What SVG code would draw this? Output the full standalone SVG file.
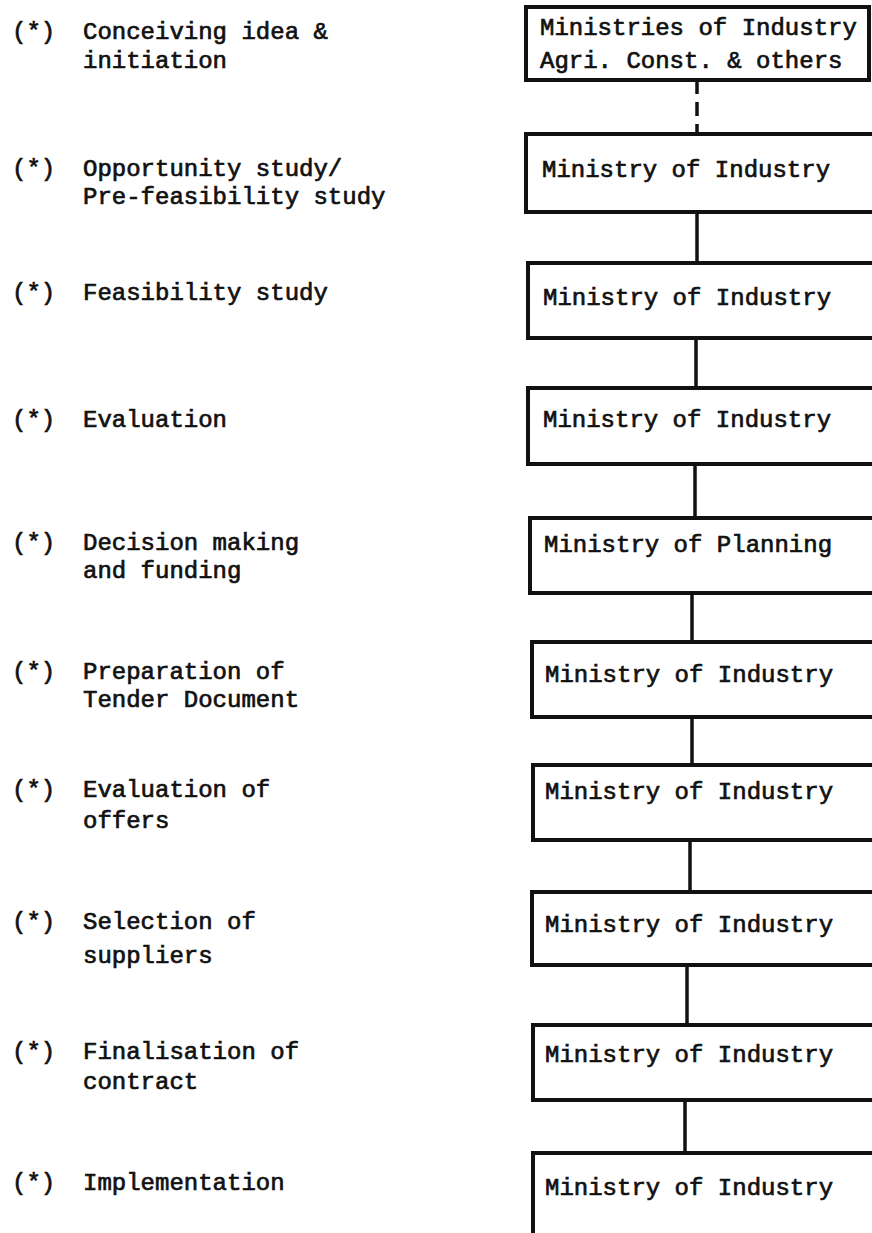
<svg xmlns="http://www.w3.org/2000/svg" width="872" height="1233" viewBox="0 0 872 1233">
<style>
text{font-family:"Liberation Mono","DejaVu Sans Mono",monospace;font-size:24px;font-weight:normal;fill:#111;stroke:#111;stroke-width:0.7}
.box{fill:#fff;stroke:#111;stroke-width:4}
.con{stroke:#111;stroke-width:3.5;fill:none}
.dash{stroke-dasharray:14 8}
</style>
<rect x="0" y="0" width="872" height="1233" fill="#fff"/>
<g id="labels">
<g id="label1"><text x="12" y="39">(*)</text><text x="83" y="39">Conceiving idea &amp;</text><text x="83" y="68">initiation</text></g>
<g id="label2"><text x="12" y="176">(*)</text><text x="83" y="176">Opportunity study/</text><text x="83" y="204">Pre-feasibility study</text></g>
<g id="label3"><text x="12" y="300">(*)</text><text x="83" y="300">Feasibility study</text></g>
<g id="label4"><text x="12" y="427">(*)</text><text x="83" y="427">Evaluation</text></g>
<g id="label5"><text x="12" y="550">(*)</text><text x="83" y="550">Decision making</text><text x="83" y="578">and funding</text></g>
<g id="label6"><text x="12" y="679">(*)</text><text x="83" y="679">Preparation of</text><text x="83" y="707">Tender Document</text></g>
<g id="label7"><text x="12" y="797">(*)</text><text x="83" y="797">Evaluation of</text><text x="83" y="828">offers</text></g>
<g id="label8"><text x="12" y="929">(*)</text><text x="83" y="929">Selection of</text><text x="83" y="963">suppliers</text></g>
<g id="label9"><text x="12" y="1059">(*)</text><text x="83" y="1059">Finalisation of</text><text x="83" y="1089">contract</text></g>
<g id="label10"><text x="12" y="1190">(*)</text><text x="83" y="1190">Implementation</text></g>
</g>
<g id="connectors">
<line class="con dash" x1="697" y1="80" x2="697" y2="134"/>
<line class="con" x1="697" y1="212" x2="697" y2="263"/>
<line class="con" x1="696" y1="338" x2="696" y2="388"/>
<line class="con" x1="695" y1="464" x2="695" y2="518"/>
<line class="con" x1="692" y1="593" x2="692" y2="642"/>
<line class="con" x1="692" y1="717" x2="692" y2="765"/>
<line class="con" x1="690" y1="840" x2="690" y2="892"/>
<line class="con" x1="687" y1="965" x2="687" y2="1025"/>
<line class="con" x1="685" y1="1100" x2="685" y2="1153"/>
</g>
<g id="node1"><rect class="box" x="526" y="7" width="343" height="73"/><text x="540" y="35">Ministries of Industry</text><text x="540" y="68">Agri. Const. &amp; others</text></g>
<g id="node2"><rect class="box" x="526" y="134" width="360" height="78"/><text x="542" y="177">Ministry of Industry</text></g>
<g id="node3"><rect class="box" x="528" y="263" width="360" height="75"/><text x="543" y="305">Ministry of Industry</text></g>
<g id="node4"><rect class="box" x="528" y="388" width="360" height="76"/><text x="543" y="427">Ministry of Industry</text></g>
<g id="node5"><rect class="box" x="530" y="518" width="360" height="75"/><text x="544" y="552">Ministry of Planning</text></g>
<g id="node6"><rect class="box" x="532" y="642" width="360" height="75"/><text x="545" y="682">Ministry of Industry</text></g>
<g id="node7"><rect class="box" x="533" y="765" width="360" height="75"/><text x="545" y="799">Ministry of Industry</text></g>
<g id="node8"><rect class="box" x="532" y="892" width="360" height="73"/><text x="545" y="932">Ministry of Industry</text></g>
<g id="node9"><rect class="box" x="533" y="1025" width="360" height="75"/><text x="545" y="1062">Ministry of Industry</text></g>
<g id="node10"><rect class="box" x="533" y="1153" width="360" height="100"/><text x="545" y="1195">Ministry of Industry</text></g>
</svg>
